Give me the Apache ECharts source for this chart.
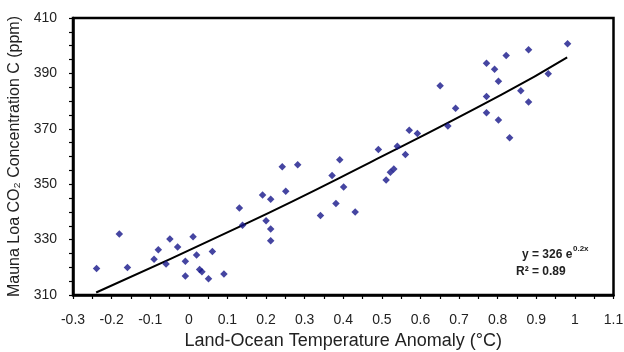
<!DOCTYPE html>
<html>
<head>
<meta charset="utf-8">
<script src="https://cdn.jsdelivr.net/npm/echarts@6/dist/echarts.min.js"></script>
<style>
html,body{margin:0;padding:0;background:#fff;}
#c{width:624px;height:352px;}
</style>
</head>
<body>
<div id="c"></div>
<script>
// Data
var tempAnomaly = [-0.239,-0.180,-0.159,-0.090,-0.079,-0.059,-0.049,-0.029,-0.009,-0.009,0.011,0.020,0.028,0.034,0.051,0.061,0.091,0.131,0.139,0.191,0.212,0.200,0.212,0.212,0.242,0.282,0.251,0.341,0.371,0.391,0.401,0.381,0.431,0.491,0.511,0.522,0.531,0.540,0.561,0.571,0.592,0.651,0.671,0.691,0.771,0.792,0.822,0.880,0.981,0.802,0.771,0.860,0.931,0.771,0.802,0.880,0.831];
var co2ppm = [319.6,332.0,319.9,322.9,326.3,321.2,330.2,327.3,322.2,316.9,331.0,324.4,319.2,318.4,315.9,325.7,317.6,341.4,335.2,346.1,344.6,336.8,333.8,329.6,356.3,357.0,347.5,338.7,353.1,358.8,349.0,343.0,340.0,362.5,351.5,354.3,355.5,363.7,360.7,369.5,368.3,385.5,371.0,377.4,393.7,391.5,396.5,398.5,400.7,387.2,381.7,383.7,389.9,375.8,373.2,379.7,366.8];
var trendX = [-0.24, 0.14, 0.47, 0.81, 0.98];
var trendY = [310.9, 335.2, 357.9, 382.3, 395.8];
var xTickLabels = ['-0.3','-0.2','-0.1','0','0.1','0.2','0.3','0.4','0.5','0.6','0.7','0.8','0.9','1','1.1'];
var yTickLabels = ['310','330','350','370','390','410'];

var scatterData = tempAnomaly.map(function(x,i){return [x, co2ppm[i]];});
var trendData = trendX.map(function(x,i){return [x, trendY[i]];});

var FONT = "'Liberation Sans', Arial, sans-serif";
var chart = echarts.init(document.getElementById('c'), null, {renderer:'canvas'});
chart.setOption({
  animation:false,
  backgroundColor:'#ffffff',
  grid:{left:73, right:10.5, top:18, bottom:57, show:true, borderColor:'#000', borderWidth:2.5, backgroundColor:'transparent', containLabel:false, outerBoundsMode:'none'},
  xAxis:{
    type:'value', min:-0.3, max:1.1, interval:0.1,
    name:'Land-Ocean Temperature Anomaly (°C)', nameLocation:'middle', nameGap:32,
    nameTextStyle:{fontFamily:FONT, fontSize:18, color:'#222'},
    axisLine:{show:true, onZero:false, lineStyle:{color:'#000', width:2.5}},
    axisTick:{show:true, inside:false, length:4, lineStyle:{color:'#000', width:1.2}},
    minorTick:{show:true, splitNumber:2, length:4, lineStyle:{color:'#000', width:1.2}},
    splitLine:{show:false},
    axisLabel:{fontFamily:FONT, fontSize:14, color:'#222', margin:18,
      formatter:function(v){var k=Math.round((v+0.3)/0.1);return xTickLabels[k]!==undefined?xTickLabels[k]:'';}}
  },
  yAxis:{
    type:'value', min:310, max:410, interval:20,
    name:'Mauna Loa CO\u2082 Concentration C (ppm)', nameLocation:'middle', nameGap:49, nameRotate:90,
    nameTextStyle:{fontFamily:FONT, fontSize:16, color:'#222'},
    axisLine:{show:true, onZero:false, lineStyle:{color:'#000', width:2.5}},
    axisTick:{show:true, inside:false, length:4, lineStyle:{color:'#000', width:1.2}},
    minorTick:{show:true, splitNumber:4, length:4, lineStyle:{color:'#000', width:1.2}},
    splitLine:{show:false},
    axisLabel:{fontFamily:FONT, fontSize:14, color:'#222', margin:16,
      formatter:function(v){var k=Math.round((v-310)/20);return yTickLabels[k]!==undefined?yTickLabels[k]:'';}}
  },
  series:[
    {type:'scatter', data:scatterData, symbol:'diamond', symbolSize:7.5, itemStyle:{color:'#16168a'}, z:3},
    {type:'line', data:trendData, smooth:true, showSymbol:false, symbol:'none', lineStyle:{color:'#000', width:2}, z:2}
  ],
  graphic:[
    {type:'text', left:522, top:249, style:{text:'y = 326 e', fontFamily:FONT, fontSize:12, fontWeight:'bold', fill:'#222'}},
    {type:'text', left:573, top:245, style:{text:'0.2x', fontFamily:FONT, fontSize:8, fontWeight:'bold', fill:'#222'}},
    {type:'text', left:516, top:266, style:{text:'R\u00b2 = 0.89', fontFamily:FONT, fontSize:12, fontWeight:'bold', fill:'#222'}}
  ]
});
</script>
</body>
</html>
